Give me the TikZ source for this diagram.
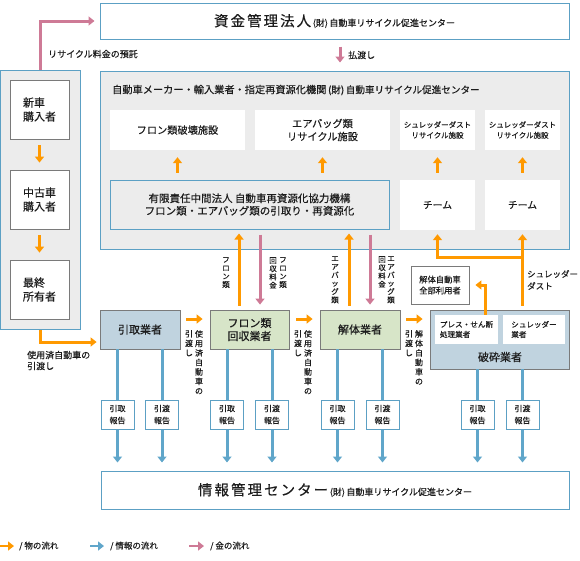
\documentclass[tikz,border=0pt]{standalone}
\usepackage{fontspec}
\setmainfont{Noto Sans CJK JP}[FakeBold=0.3]
\newfontfamily\spacedcjk[LetterSpace=14, FakeBold=0.3]{Noto Sans CJK JP}
\usetikzlibrary{arrows.meta}
\definecolor{panelgray}{RGB}{236, 236, 236}
\definecolor{frameblue}{RGB}{92, 160, 196}
\definecolor{infoblue}{RGB}{96, 166, 202}
\definecolor{goodsorange}{RGB}{255, 153, 0}
\definecolor{moneypink}{RGB}{206, 122, 150}
\definecolor{agentsteel}{RGB}{192, 211, 223}
\definecolor{agentsage}{RGB}{215, 229, 200}
\definecolor{edgegray}{RGB}{122, 122, 122}
\definecolor{inkgray}{RGB}{28, 28, 28}
\newcommand{\titlebig}{\spacedcjk\fontsize{14.5}{16}\selectfont}
\newcommand{\titlesmall}{\fontsize{9}{10}\selectfont}
\tikzset{
  boxsize/.style 2 args = {minimum width=#1pt, minimum height=#2pt},
  panel/.style          = {draw=frameblue, fill=panelgray, line width=1pt, inner sep=0pt, align=center},
  sheet/.style          = {draw=frameblue, fill=white, line width=1pt, inner sep=0pt, align=center},
  holder/.style         = {draw=edgegray, fill=white, line width=0.8pt, inner sep=0pt, align=center},
  card/.style           = {fill=white, inner sep=0pt, align=center},
  agent/.style          = {draw=edgegray, line width=0.8pt, inner sep=0pt, align=center, font=\fontsize{11}{13}\selectfont},
  report/.style         = {draw=frameblue, fill=white, line width=1pt, inner sep=0pt, align=center, boxsize={33}{29}, font=\fontsize{8}{12}\selectfont},
  tate/.style           = {inner sep=0pt, align=center, anchor=north, font=\fontsize{8}{9.5}\selectfont},
  tatesmall/.style      = {tate, font=\fontsize{7.5}{8.3}\selectfont},
  note/.style           = {inner sep=0pt, anchor=west, align=left, font=\fontsize{9}{11}\selectfont},
  goodsflow/.style      = {draw=goodsorange, line width=3pt, -{Triangle[width=9pt,length=6pt]}},
  infoflow/.style       = {draw=infoblue, line width=3pt, -{Triangle[width=9pt,length=6pt]}},
  infoline/.style       = {draw=infoblue, line width=3pt},
  moneyflow/.style      = {draw=moneypink, line width=3pt, -{Triangle[width=9pt,length=6pt]}}
}
\begin{document}
\begin{tikzpicture}[x=1pt, y=-1pt, every node/.append style={text=inkgray}]
  \useasboundingbox (0,0) rectangle (580,560);

  \node[sheet, boxsize={469}{36}]                        (fund)          at (334.5, 21.0) {{\titlebig 資金管理法人}\,{\titlesmall (財)\,自動車リサイクル促進センター}};
  \node[panel, boxsize={469}{178}]                       (makers)        at (334.5,160.0) {};
  \node[note, font=\fontsize{10.2}{11}\selectfont]       (makerstitle)   at (112.0, 90.0) {自動車メーカー・輸入業者・指定再資源化機関\,{\fontsize{9.6}{11}\selectfont (財)\,自動車リサイクル促進センター}};

  \node[card, boxsize={135}{40}, font=\fontsize{10.2}{13}\selectfont] (freondestroy)  at (177.5,130.0) {フロン類破壊施設};
  \node[card, boxsize={135}{40}, font=\fontsize{10.2}{13}\selectfont] (airbagrecycle) at (322.5,130.0) {エアバッグ類\\リサイクル施設};
  \node[card, boxsize={75}{40},  font=\fontsize{7.5}{10.5}\selectfont] (dustrecycleA) at (437.5,130.0) {シュレッダーダスト\\リサイクル施設};
  \node[card, boxsize={75}{40},  font=\fontsize{7.5}{10.5}\selectfont] (dustrecycleB) at (522.5,130.0) {シュレッダーダスト\\リサイクル施設};
  \node[panel, boxsize={279}{49}, font=\fontsize{10.5}{12.5}\selectfont] (jointorg)   at (249.5,204.5) {有限責任中間法人 自動車再資源化協力機構\\フロン類・エアバッグ類の引取り・再資源化};
  \node[card, boxsize={75}{50},  font=\fontsize{9.8}{13}\selectfont] (teamA)         at (437.5,205.0) {チーム};
  \node[card, boxsize={75}{50},  font=\fontsize{9.8}{13}\selectfont] (teamB)         at (522.5,205.0) {チーム};

  \node[panel, boxsize={80}{259}]                                    (ownerpanel)    at ( 40.0,199.5) {};
  \node[holder, boxsize={59}{59}, align=left, font=\fontsize{11}{14}\selectfont] (newbuyer)  at (39.5,109.5) {新車\\購入者};
  \node[holder, boxsize={59}{59}, align=left, font=\fontsize{11}{14}\selectfont] (usedbuyer) at (39.5,199.5) {中古車\\購入者};
  \node[holder, boxsize={59}{59}, align=left, font=\fontsize{11}{14}\selectfont] (lastowner) at (39.5,289.5) {最終\\所有者};

  \node[agent, fill=agentsteel, boxsize={80}{39}]                    (takeback)      at (140.0,329.5) {引取業者};
  \node[agent, fill=agentsage,  boxsize={79}{39}]                    (freoncollect)  at (249.5,329.5) {フロン類\\回収業者};
  \node[agent, fill=agentsage,  boxsize={80}{39}]                    (dismantler)    at (360.0,329.5) {解体業者};
  \node[agent, fill=agentsteel, boxsize={139}{59}]                   (shredderpanel) at (499.5,339.5) {};
  \node[card, boxsize={63}{29}, align=left, font=\fontsize{7.6}{10}\selectfont] (press)   at (466.5,329.5) {プレス・せん断\\処理業者};
  \node[card, boxsize={62}{29}, align=left, font=\fontsize{7.6}{10}\selectfont] (shredop) at (534.0,329.5) {シュレッダー\\業者};
  \node[inner sep=0pt, font=\fontsize{11}{13}\selectfont]            (shreddertitle) at (500.0,357.0) {破砕業者};
  \node[holder, boxsize={58}{38}, font=\fontsize{8.3}{11}\selectfont] (allusers)     at (440.0,285.0) {解体自動車\\全部利用者};

  \node[report] (takebackin)   at (117.5,414.5) {引取\\報告};
  \node[report] (takebackout)  at (162.0,414.5) {引渡\\報告};
  \node[report] (freonin)      at (227.0,414.5) {引取\\報告};
  \node[report] (freonout)     at (272.0,414.5) {引渡\\報告};
  \node[report] (dismantlein)  at (337.5,414.5) {引取\\報告};
  \node[report] (dismantleout) at (382.5,414.5) {引渡\\報告};
  \node[report] (shredin)      at (477.5,414.5) {引取\\報告};
  \node[report] (shredout)     at (522.5,414.5) {引渡\\報告};

  \node[sheet, boxsize={468}{38}] (infobox) at (335.0,490.0) {{\titlebig 情報管理センター}\,{\titlesmall (財)\,自動車リサイクル促進センター}};

  \coordinate (payline)    at (340,0);
  \coordinate (freonlift)  at (239,0);
  \coordinate (freonfee)   at (260,0);
  \coordinate (airbaglift) at (349,0);
  \coordinate (airbagfee)  at (370,0);
  \coordinate (presslift)  at (485,0);
  \coordinate (dustsplit)  at (522.5,257);

  \draw[moneyflow, shorten >=5pt]                 (ownerpanel.north) |- (fund.west);
  \draw[moneyflow, shorten <=7pt, shorten >=8pt]  (payline |- fund.south) -- (payline |- makers.north);
  \draw[goodsflow, shorten <=6pt, shorten >=7pt]  (newbuyer.south) -- (usedbuyer.north);
  \draw[goodsflow, shorten <=6pt, shorten >=7pt]  (usedbuyer.south) -- (lastowner.north);
  \draw[goodsflow, shorten >=3pt]                 (ownerpanel.south) |- ([yshift=-12.5pt]takeback.west);

  \draw[goodsflow, shorten <=7pt, shorten >=7pt]  (jointorg.north -| freondestroy) -- (freondestroy.south);
  \draw[goodsflow, shorten <=7pt, shorten >=7pt]  (jointorg.north -| airbagrecycle) -- (airbagrecycle.south);
  \draw[goodsflow, shorten <=7pt, shorten >=7pt]  (teamA.north) -- (dustrecycleA.south);
  \draw[goodsflow, shorten <=7pt, shorten >=7pt]  (teamB.north) -- (dustrecycleB.south);

  \draw[goodsflow, shorten <=4pt, shorten >=4pt]  (freonlift |- freoncollect.north) -- (freonlift |- jointorg.south);
  \draw[moneyflow, shorten <=5pt, shorten >=5pt]  (freonfee |- jointorg.south) -- (freonfee |- freoncollect.north);
  \draw[goodsflow, shorten <=4pt, shorten >=4pt]  (airbaglift |- dismantler.north) -- (airbaglift |- jointorg.south);
  \draw[moneyflow, shorten <=5pt, shorten >=5pt]  (airbagfee |- jointorg.south) -- (airbagfee |- dismantler.north);
  \draw[goodsflow, shorten <=4pt, shorten >=4pt]  (shredderpanel.north -| teamB.south) -- (teamB.south);
  \draw[goodsflow, shorten >=4pt]                 (dustsplit) -| (teamA.south);
  \draw[goodsflow, shorten >=6pt]                 (presslift |- press.north) |- (allusers.east);

  \draw[goodsflow, shorten <=6pt, shorten >=7pt]  ([yshift=10.5pt]takeback.east) -- ([yshift=10.5pt]freoncollect.west);
  \draw[goodsflow, shorten <=7pt, shorten >=7pt]  ([yshift=10.5pt]freoncollect.east) -- ([yshift=10.5pt]dismantler.west);
  \draw[goodsflow, shorten <=6pt, shorten >=7pt]  ([yshift=10.5pt]dismantler.east) -- (shredderpanel.west |- 0,319);

  \draw[infoline] (takeback.south -| takebackin)        -- (takebackin.north);
  \draw[infoline] (takeback.south -| takebackout)       -- (takebackout.north);
  \draw[infoline] (freoncollect.south -| freonin)       -- (freonin.north);
  \draw[infoline] (freoncollect.south -| freonout)      -- (freonout.north);
  \draw[infoline] (dismantler.south -| dismantlein)     -- (dismantlein.north);
  \draw[infoline] (dismantler.south -| dismantleout)    -- (dismantleout.north);
  \draw[infoline] (shredderpanel.south -| shredin)      -- (shredin.north);
  \draw[infoline] (shredderpanel.south -| shredout)     -- (shredout.north);
  \draw[infoflow, shorten >=8pt] (takebackin.south)   -- (infobox.north -| takebackin);
  \draw[infoflow, shorten >=8pt] (takebackout.south)  -- (infobox.north -| takebackout);
  \draw[infoflow, shorten >=8pt] (freonin.south)      -- (infobox.north -| freonin);
  \draw[infoflow, shorten >=8pt] (freonout.south)     -- (infobox.north -| freonout);
  \draw[infoflow, shorten >=8pt] (dismantlein.south)  -- (infobox.north -| dismantlein);
  \draw[infoflow, shorten >=8pt] (dismantleout.south) -- (infobox.north -| dismantleout);
  \draw[infoflow, shorten >=8pt] (shredin.south)      -- (infobox.north -| shredin);
  \draw[infoflow, shorten >=8pt] (shredout.south)     -- (infobox.north -| shredout);

  \node[note]      (depositnote)  at ( 48.0, 54.0) {リサイクル料金の預託};
  \node[note]      (paynote)      at (348.0, 55.0) {払渡し};
  \node[note]      (handovernote) at ( 27.0,360.5) {使用済自動車の\\引渡し};
  \node[note, font=\fontsize{8.5}{12}\selectfont] (dustnote) at (527.0,280.0) {シュレッダー\\ダスト};

  \node[tatesmall] (freonword)     at (226.0,257.0) {フ\\ロ\\ン\\類};
  \node[tatesmall] (freonfeeA)     at (283.0,257.0) {フ\\ロ\\ン\\類};
  \node[tatesmall] (freonfeeB)     at (273.0,257.0) {回\\収\\料\\金};
  \node[tatesmall] (airbagword)    at (335.0,256.0) {エ\\ア\\バ\\ッ\\グ\\類};
  \node[tatesmall] (airbagfeeA)    at (391.0,256.0) {エ\\ア\\バ\\ッ\\グ\\類};
  \node[tatesmall] (airbagfeeB)    at (382.0,256.0) {回\\収\\料\\金};

  \node[tate]      (firsthandA)    at (189.0,330.0) {引\\渡\\し};
  \node[tate]      (firsthandB)    at (199.0,330.0) {使\\用\\済\\自\\動\\車\\の};
  \node[tate]      (secondhandA)   at (298.0,330.0) {引\\渡\\し};
  \node[tate]      (secondhandB)   at (308.0,330.0) {使\\用\\済\\自\\動\\車\\の};
  \node[tate]      (thirdhandA)    at (409.0,330.0) {引\\渡\\し};
  \node[tate]      (thirdhandB)    at (419.0,330.0) {解\\体\\自\\動\\車\\の};

  \coordinate (goodskeyA) at (  0,546);
  \coordinate (goodskeyB) at ( 14,546);
  \coordinate (infokeyA)  at ( 90,546);
  \coordinate (infokeyB)  at (104,546);
  \coordinate (moneykeyA) at (189,546);
  \coordinate (moneykeyB) at (204,546);
  \draw[goodsflow, line width=2.5pt] (goodskeyA) -- (goodskeyB);
  \draw[infoflow,  line width=2.5pt] (infokeyA)  -- (infokeyB);
  \draw[moneyflow, line width=2.5pt] (moneykeyA) -- (moneykeyB);
  \node[note, font=\fontsize{8.5}{10}\selectfont] (goodskey) at ( 19,546) {/ 物の流れ};
  \node[note, font=\fontsize{8.5}{10}\selectfont] (infokey)  at (110,546) {/ 情報の流れ};
  \node[note, font=\fontsize{8.5}{10}\selectfont] (moneykey) at (210,546) {/ 金の流れ};
\end{tikzpicture}
\end{document}
